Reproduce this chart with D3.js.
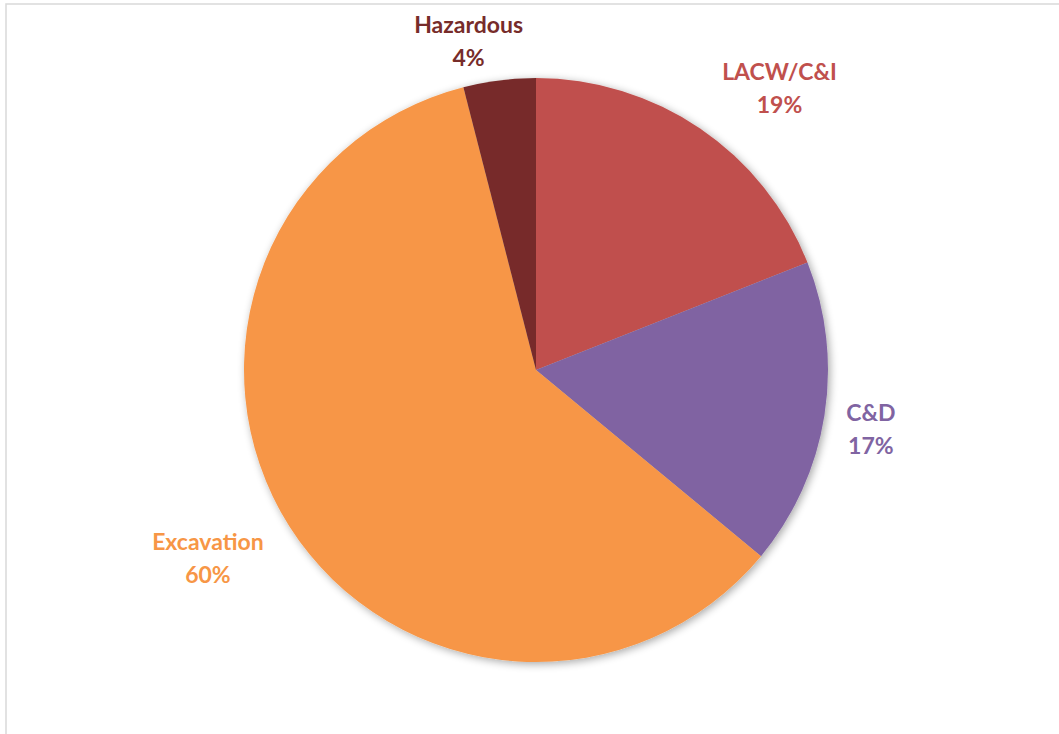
<!DOCTYPE html>
<html>
<head>
<meta charset="utf-8">
<script src="https://cdn.jsdelivr.net/npm/d3@7"></script>
<style>
  html, body { margin: 0; padding: 0; background: #fff; }
  svg { display: block; }
  text { font-family: Lato, "Open Sans", sans-serif; font-weight: 700; }
</style>
</head>
<body>
<svg id="chart" width="1059" height="734"></svg>
<script>
// Waste arisings by type (share of total, %)
const categories = ["LACW/C&I", "C&D", "Excavation", "Hazardous"];
const shares = [19, 17, 60, 4];
const sliceColors = ["#C0504D", "#8064A2", "#F79646", "#772C2A"];

// Layout
const W = 1059, H = 734;
const cx = 536, cy = 370, radius = 292;
const labelGap = 20;
const labelW = [118, 50, 120, 116];
const labelH = 64;
const labelNudge = [[35, 2], [2, 4], [-14, 3], [-21, 11]];

const svg = d3.select("#chart");

// chart frame
svg.append("path")
  .attr("d", `M6,${H} L6,4 L${W},4`)
  .attr("fill", "none")
  .attr("stroke", "#d9d9d9")
  .attr("stroke-width", 1.5);

// soft shadow under the pie
const defs = svg.append("defs");
const f = defs.append("filter").attr("id", "pieShadow")
  .attr("x", "-10%").attr("y", "-10%").attr("width", "120%").attr("height", "120%");
f.append("feGaussianBlur").attr("in", "SourceAlpha").attr("stdDeviation", 4).attr("result", "b");
f.append("feOffset").attr("in", "b").attr("dx", 2).attr("dy", 2).attr("result", "o");
f.append("feComponentTransfer").attr("in", "o").attr("result", "s")
  .append("feFuncA").attr("type", "linear").attr("slope", 0.35);
const m = f.append("feMerge");
m.append("feMergeNode").attr("in", "s");
m.append("feMergeNode").attr("in", "SourceGraphic");

const data = categories.map((c, i) => ({ name: c, value: shares[i], color: sliceColors[i], i }));

const pie = d3.pie().value(d => d.value).sort(null);
const arc = d3.arc().innerRadius(0).outerRadius(radius);
const arcs = pie(data);

const g = svg.append("g").attr("transform", `translate(${cx},${cy})`);

g.append("g").attr("filter", "url(#pieShadow)")
  .selectAll("path")
  .data(arcs)
  .join("path")
  .attr("d", arc)
  .attr("fill", d => d.data.color);

// outside-end data labels
const labels = g.selectAll("g.lbl")
  .data(arcs)
  .join("g")
  .attr("class", "lbl")
  .attr("transform", d => {
    const a = (d.startAngle + d.endAngle) / 2;
    const dx = Math.sin(a), dy = -Math.cos(a);
    const i = d.data.i;
    const x = (radius + labelGap) * dx + dx * labelW[i] / 2 + labelNudge[i][0];
    const y = (radius + labelGap) * dy + dy * labelH / 2 + labelNudge[i][1];
    return `translate(${x},${y})`;
  });

labels.append("text")
  .attr("text-anchor", "middle")
  .attr("y", -7)
  .attr("font-size", 23)
  .attr("fill", d => d.data.color)
  .text(d => d.data.name);

labels.append("text")
  .attr("text-anchor", "middle")
  .attr("y", 26)
  .attr("font-size", 23)
  .attr("fill", d => d.data.color)
  .text(d => d.data.value + "%");
</script>
</body>
</html>
